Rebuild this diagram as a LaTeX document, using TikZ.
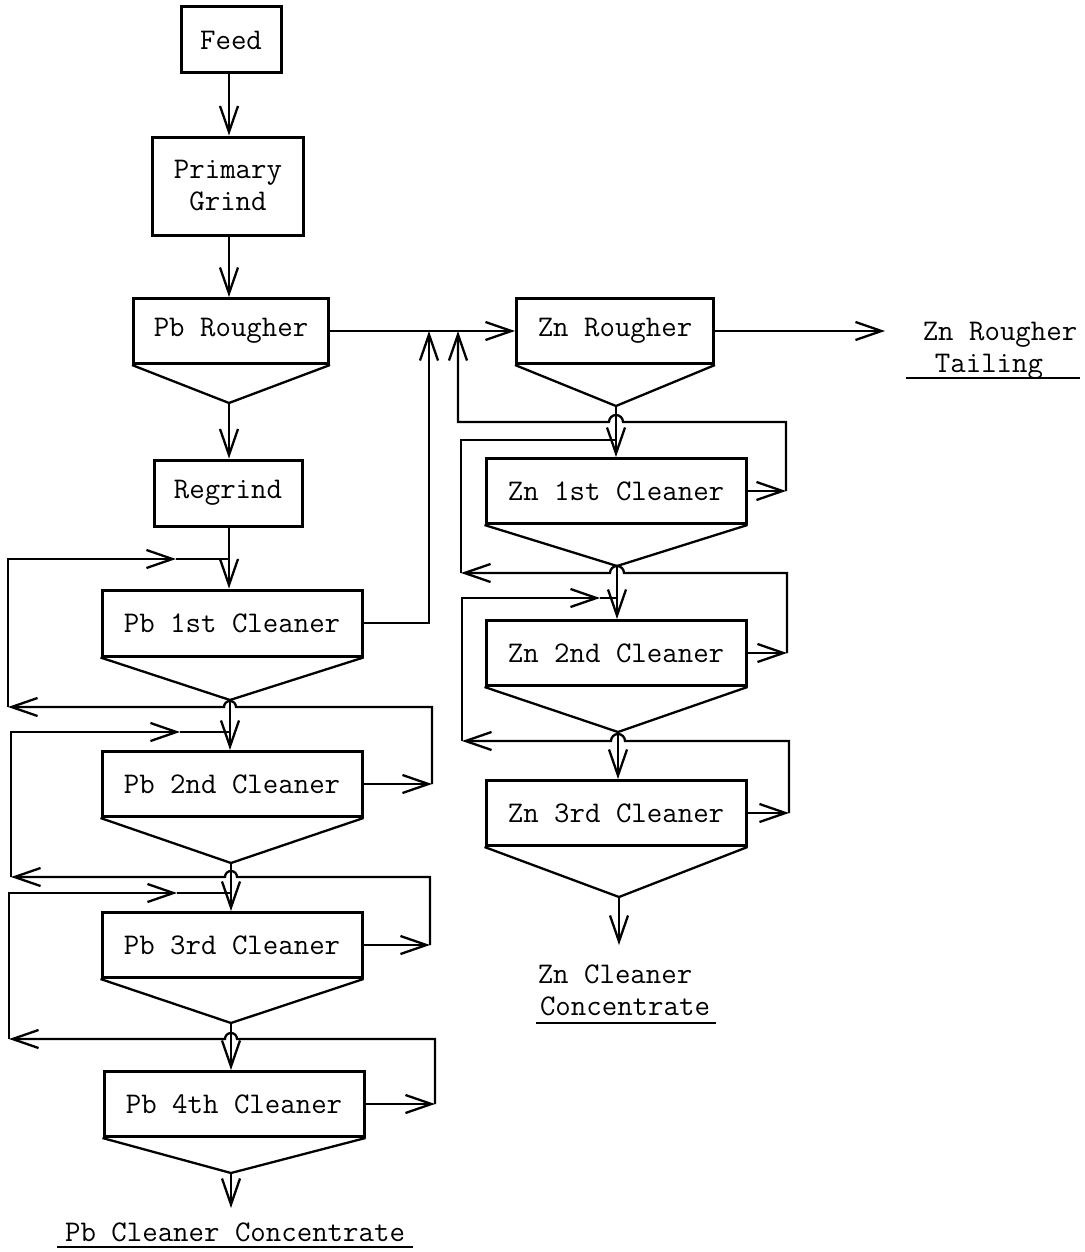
\documentclass[tikz,border=0pt]{standalone}
\usetikzlibrary{arrows.meta}
\begin{document}
\begin{tikzpicture}[x=0.5pt,y=-0.5pt,
  lbl/.style={font=\fontsize{15}{16}\selectfont\ttfamily},
  box/.style={draw,line width=1.5pt,inner sep=0pt,lbl,align=center},
  ln/.style={line width=1.15pt},
  arr/.style={ln,-{Straight Barb[length=13pt,width=9pt,line width=1.15pt]}},
  ul/.style={line width=1.4pt}]
\useasboundingbox (0,0) rectangle (1085,1252);
\fill[white] (0,0) rectangle (1085,1252);

% ---- Pb column
\node[box,minimum width=50pt,minimum height=33pt] (feed) at (231,40) {Feed};
\node[box,minimum width=75.5pt,minimum height=49pt] (grind) at (228,186) {Primary\\Grind};
\node[box,minimum width=97.5pt,minimum height=32.5pt] (pbr) at (231,331) {Pb Rougher};
\node[box,minimum width=74pt,minimum height=33pt] (regrind) at (228,493) {Regrind};
\node[box,minimum width=130pt,minimum height=33pt] (pb1) at (232,623) {Pb 1st Cleaner};
\node[box,minimum width=130pt,minimum height=32.5pt] (pb2) at (232,784) {Pb 2nd Cleaner};
\node[box,minimum width=130pt,minimum height=32.5pt] (pb3) at (232,945) {Pb 3rd Cleaner};
\node[box,minimum width=130pt,minimum height=32.5pt] (pb4) at (234,1104) {Pb 4th Cleaner};

% ---- Zn column
\node[box,minimum width=98.5pt,minimum height=32.5pt] (znr) at (615,331) {Zn Rougher};
\node[box,minimum width=130pt,minimum height=32.5pt] (zn1) at (616,491) {Zn 1st Cleaner};
\node[box,minimum width=130pt,minimum height=32.5pt] (zn2) at (616,653) {Zn 2nd Cleaner};
\node[box,minimum width=130pt,minimum height=32.5pt] (zn3) at (616,813) {Zn 3rd Cleaner};

% ---- cone apexes
\coordinate (pbrA) at (229,403);
\coordinate (pb1A) at (230,700);
\coordinate (pb2A) at (231,863);
\coordinate (pb3A) at (231,1023);
\coordinate (pb4A) at (231,1173);
\coordinate (znrA) at (616,406);
\coordinate (zn1A) at (617,566);
\coordinate (zn2A) at (618,732);
\coordinate (zn3A) at (619,897);

\foreach \b in {pbr,pb1,pb2,pb3,pb4,znr,zn1,zn2,zn3}
  \draw[ln] (\b.south west) -- (\b A) -- (\b.south east);

% ---- product labels
\node[lbl,anchor=base] (tailA) at (1000,340) {Zn Rougher};
\node[lbl,anchor=base] (tailB) at (989,372) {Tailing};
\draw[ul] (906,378) -- (1080,378);
\node[lbl,anchor=base] (zncA) at (615,983) {Zn Cleaner};
\node[lbl,anchor=base] (zncB) at (625,1015) {Concentrate};
\draw[ul] (536,1023) -- (716,1023);
\node[lbl,anchor=base] (pbc) at (235,1241) {Pb Cleaner Concentrate};
\draw[ul] (57,1247) -- (413,1247);

% ---- free ends / junctions
\coordinate (pbEnd) at (231,1208);
\coordinate (znEnd) at (619,945);
\coordinate (tailTip) at (885,331);
\coordinate (j1) at (429,331);
\coordinate (j2) at (458,331);

% ---- main Pb stream
\draw[arr] (feed.south -| 229,0) -- (grind.north -| 229,0);
\draw[arr] (grind.south -| 229,0) -- (pbr.north -| 229,0);
\draw[arr] (pbrA) -- (regrind.north -| pbrA);
\draw[arr] (regrind.south -| pbrA) -- (pb1.north -| pbrA);
\draw[arr] (pb1A) -- (pb2.north -| pb1A);
\draw[arr] (pb2A) -- (pb3.north -| pb2A);
\draw[arr] (pb3A) -- (pb4.north -| pb3A);
\draw[arr] (pb4A) -- (pbEnd);

% ---- to Zn circuit
\draw[arr] (pbr.east) -- (znr.west);
\draw[arr] (znr.east) -- (tailTip);
\draw[arr] (pb1.east) -| (j1);

% ---- main Zn stream
\draw[arr] (znrA) -- (zn1.north -| znrA);
\draw[arr] (zn1A) -- (zn2.north -| zn1A);
\draw[arr] (zn2A) -- (zn3.north -| zn2A);
\draw[arr] (zn3A) -- (znEnd);

% ---- Pb cleaner recycle loops
\coordinate (p2r) at (432,784);
\coordinate (p2l) at (8,707);
\coordinate (p2t) at (176,559);
\draw[arr] (pb2.east) -- (p2r);
\draw[arr] (p2r) -- (432,707) -- (236,707) arc[start angle=0,end angle=180,radius=3pt] -- (p2l);
\draw[arr] (p2l) -- (8,559) -- (p2t);
\draw[ln] (p2t) -- (229,559);

\coordinate (p3r) at (430,945);
\coordinate (p3l) at (11,877);
\coordinate (p3t) at (180,732);
\draw[arr] (pb3.east) -- (p3r);
\draw[arr] (p3r) -- (430,877) -- (237,877) arc[start angle=0,end angle=180,radius=3pt] -- (p3l);
\draw[arr] (p3l) -- (11,732) -- (p3t);
\draw[ln] (p3t) -- (230,732);

\coordinate (p4r) at (435,1104);
\coordinate (p4l) at (9,1039);
\coordinate (p4t) at (177,893);
\draw[arr] (pb4.east) -- (p4r);
\draw[arr] (p4r) -- (435,1039) -- (237,1039) arc[start angle=0,end angle=180,radius=3pt] -- (p4l);
\draw[arr] (p4l) -- (9,893) -- (p4t);
\draw[ln] (p4t) -- (231,893);

% ---- Zn cleaner recycle loops
\coordinate (z1r) at (786,491);
\draw[arr] (zn1.east) -- (z1r);
\draw[arr] (z1r) -- (786,422) -- (623,422) arc[start angle=0,end angle=180,radius=3.5pt] -- (458,422) -- (j2);

\coordinate (z2r) at (787,653);
\coordinate (z2l) at (461,573);
\draw[arr] (zn2.east) -- (z2r);
\draw[arr] (z2r) -- (787,573) -- (624,573) arc[start angle=0,end angle=180,radius=3.5pt] -- (z2l);
\draw[ln] (z2l) -- (461,440) -- (616,440);

\coordinate (z3r) at (789,813);
\coordinate (z3l) at (462,741);
\coordinate (z3t) at (600,598);
\draw[arr] (zn3.east) -- (z3r);
\draw[arr] (z3r) -- (789,741) -- (625,741) arc[start angle=0,end angle=180,radius=3.5pt] -- (z3l);
\draw[arr] (z3l) -- (462,598) -- (z3t);
\draw[ln] (z3t) -- (617,598);
\end{tikzpicture}
\end{document}
